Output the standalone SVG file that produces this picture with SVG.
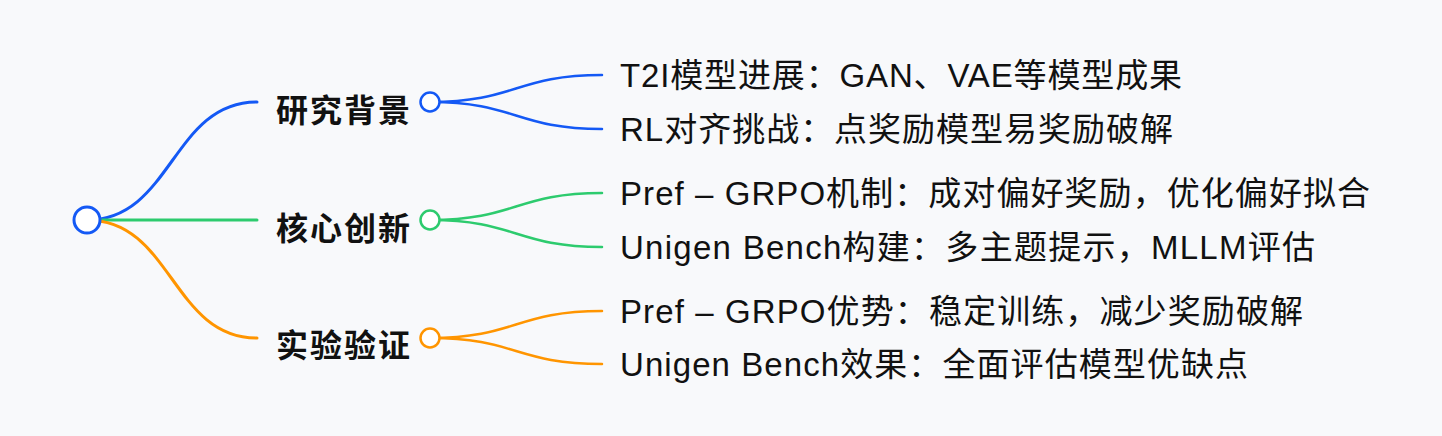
<svg xmlns="http://www.w3.org/2000/svg" width="1442" height="436" viewBox="0 0 1442 436">
  <style>
    .l1 { font-family: "Liberation Sans", "Noto Sans CJK SC", sans-serif; font-size: 32px; font-weight: bold; fill: #111111; }
    .l2 { font-family: "Liberation Sans", "Noto Sans CJK SC", sans-serif; font-size: 33px; fill: #111111; }
    .lk { fill: none; stroke-linecap: round; }
    .b { stroke: #1459F5; }
    .g { stroke: #2DCB6E; }
    .o { stroke: #FF9500; }
    .c { fill: #ffffff; }
  </style>
  <rect x="0" y="0" width="1442" height="436" fill="#F8F9FB"/>
  <g id="connectors">
    <path class="lk b" stroke-width="3" d="M 87 220 C 172 220, 172 102, 257 102"/>
    <path class="lk g" stroke-width="3" d="M 87 220 L 257 220"/>
    <path class="lk o" stroke-width="3" d="M 87 220 C 172 220, 172 338, 257 338"/>
    <path class="lk b" stroke-width="2.5" d="M 430 102 C 516 102, 516 75, 602 75"/>
    <path class="lk b" stroke-width="2.5" d="M 430 102 C 516 102, 516 129, 602 129"/>
    <path class="lk g" stroke-width="2.5" d="M 430 220 C 516 220, 516 193, 602 193"/>
    <path class="lk g" stroke-width="2.5" d="M 430 220 C 516 220, 516 247, 602 247"/>
    <path class="lk o" stroke-width="2.5" d="M 430 338 C 516 338, 516 311, 602 311"/>
    <path class="lk o" stroke-width="2.5" d="M 430 338 C 516 338, 516 364, 602 364"/>
  </g>
  <g id="root">
    <circle class="c b" cx="87" cy="220" r="13" stroke-width="3"/>
  </g>
  <g id="n-bg">
    <text class="l1" x="276" y="122" textLength="134" lengthAdjust="spacing">研究背景</text>
    <circle class="c b" cx="430" cy="102" r="9.5" stroke-width="2.5"/>
  </g>
  <g id="n-core">
    <text class="l1" x="276" y="240" textLength="134" lengthAdjust="spacing">核心创新</text>
    <circle class="c g" cx="430" cy="220" r="9.5" stroke-width="2.5"/>
  </g>
  <g id="n-exp">
    <text class="l1" x="276" y="357" textLength="134" lengthAdjust="spacing">实验验证</text>
    <circle class="c o" cx="430" cy="338" r="9.5" stroke-width="2.5"/>
  </g>
  <g id="n-bg-1"><text class="l2" x="620" y="87" textLength="562" lengthAdjust="spacing">T2I模型进展：GAN、VAE等模型成果</text></g>
  <g id="n-bg-2"><text class="l2" x="620" y="141" textLength="553" lengthAdjust="spacing">RL对齐挑战：点奖励模型易奖励破解</text></g>
  <g id="n-core-1"><text class="l2" x="620" y="205" textLength="750" lengthAdjust="spacing">Pref – GRPO机制：成对偏好奖励，优化偏好拟合</text></g>
  <g id="n-core-2"><text class="l2" x="620" y="259" textLength="695" lengthAdjust="spacing">Unigen Bench构建：多主题提示，MLLM评估</text></g>
  <g id="n-exp-1"><text class="l2" x="620" y="323" textLength="683" lengthAdjust="spacing">Pref – GRPO优势：稳定训练，减少奖励破解</text></g>
  <g id="n-exp-2"><text class="l2" x="620" y="376" textLength="628" lengthAdjust="spacing">Unigen Bench效果：全面评估模型优缺点</text></g>
</svg>
